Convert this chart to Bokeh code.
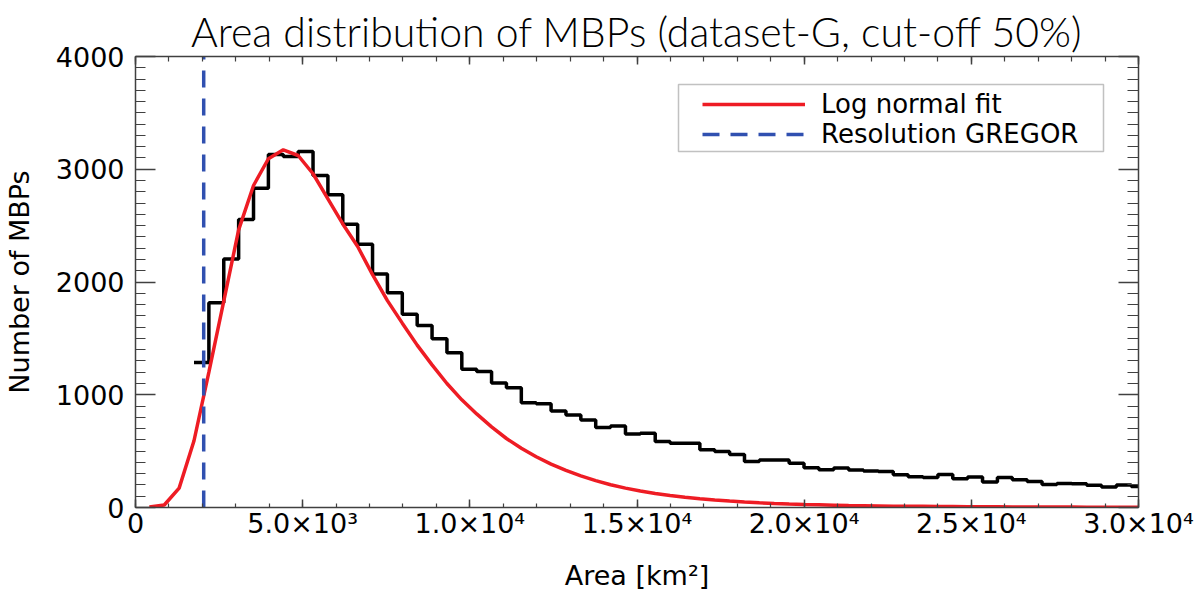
import numpy as np
from bokeh.plotting import figure
from bokeh.models import (Range1d, LinearAxis, Legend, LegendItem, BoxAnnotation,
                          SingleIntervalTicker, CustomJSTickFormatter)
from bokeh.embed import file_html
from bokeh.resources import INLINE

# histogram of MBP areas (counts per bin), bins start at first_edge
counts = [1287, 1815, 2205, 2554, 2832, 3131, 3113, 3158, 2945, 2773,
          2513, 2335, 2072, 1905, 1715, 1615, 1497, 1372, 1227, 1206,
          1104, 1063, 929, 920, 856, 820, 776, 710, 722, 652,
          658, 586, 570, 570, 512, 496, 471, 408, 422, 421,
          393, 352, 335, 350, 332, 323, 320, 290, 272, 266,
          293, 254, 270, 227, 266, 246, 231, 204, 212, 210,
          197, 181, 200, 187]
first_edge = 1750
bin_width = 445

# log normal fit, sampled on the same grid starting at fit_start
fit_vals = [5, 22, 172, 592, 1200, 1830, 2462, 2856, 3093, 3172,
            3122, 2960, 2738, 2515, 2315, 2065, 1835, 1635, 1440, 1265,
            1100, 955, 830, 715, 612, 525, 450, 385, 330, 280,
            238, 202, 172, 146, 124, 106, 90, 77, 66, 57,
            49, 42, 36, 31, 27, 24, 21, 18, 16, 14,
            12, 11, 10, 9, 8, 7, 6, 6, 5, 5,
            4, 4, 4, 3, 3, 3, 3, 2]
fit_start = 415

gregor_res = 2040

x_labels = {0: "0", 5000: "5.0×10³", 10000: "1.0×10⁴", 15000: "1.5×10⁴",
            20000: "2.0×10⁴", 25000: "2.5×10⁴", 30000: "3.0×10⁴"}

edges = first_edge + bin_width * np.arange(len(counts) + 1)
step_y = counts + [counts[-1]]
fit_x = fit_start + bin_width * np.arange(len(fit_vals))

FONT = "DejaVu Sans"
AX = "#404040"

p = figure(width=1200, height=594, output_backend="svg", toolbar_location=None,
           x_range=Range1d(0, 30000), y_range=Range1d(0, 4000),
           min_border_left=132, min_border_right=62, min_border_top=56,
           min_border_bottom=87)
p.title.text = "Area distribution of MBPs (dataset-G, cut-off 50%)"
p.title.text_font = "'Lato Light', Lato"
p.title.text_font_size = "41px"
p.title.text_font_style = "normal"
p.title.text_color = "black"
p.title.text_line_height = 0.75
p.title.align = "center"
p.title.standoff = 2

p.xgrid.visible = False
p.ygrid.visible = False
p.outline_line_color = None

hist_r = p.step(edges, step_y, mode="after", line_color="black", line_width=3.5)
fit_r = p.line(fit_x, fit_vals, line_color="#ee1c24", line_width=3.5)
res_r = p.line([gregor_res, gregor_res], [p.y_range.start, p.y_range.end],
               line_color="#3050b0", line_width=3.5, line_dash="17 11")

blank = CustomJSTickFormatter(code="return ''")

def style(ax, major, minor, labels=True):
    ax.axis_line_color = AX
    ax.axis_line_width = 1.5
    ax.major_tick_line_color = AX
    ax.minor_tick_line_color = AX
    ax.major_tick_line_width = 1.5
    ax.minor_tick_line_width = 1.2
    ax.major_tick_in = major
    ax.major_tick_out = 0
    ax.minor_tick_in = minor
    ax.minor_tick_out = 0
    if labels:
        ax.major_label_text_font = FONT
        ax.major_label_text_font_size = "27px"
        ax.major_label_text_color = "black"
        ax.axis_label_text_font = FONT
        ax.axis_label_text_font_size = "27px"
        ax.axis_label_text_font_style = "normal"
        ax.axis_label_text_color = "black"
    else:
        ax.formatter = blank
        ax.major_label_standoff = 0
        ax.axis_label_standoff = 0
        ax.major_label_text_font_size = "1px"

xt = SingleIntervalTicker(interval=5000, num_minor_ticks=5)
yt = SingleIntervalTicker(interval=1000, num_minor_ticks=10)

xa = p.xaxis[0]
xa.ticker = xt
xa.major_label_overrides = x_labels
xa.axis_label = "Area [km²]"
style(xa, 8, 4)
xa.major_label_standoff = 0
xa.axis_label_standoff = 18

ya = p.yaxis[0]
ya.ticker = yt
ya.axis_label = "Number of MBPs"
style(ya, 20, 10)
ya.major_label_standoff = 11
ya.axis_label_standoff = 18

top = LinearAxis(ticker=xt)
style(top, 8, 5, labels=False)
p.add_layout(top, "above")
right = LinearAxis(ticker=yt)
style(right, 20, 11, labels=False)
p.add_layout(right, "right")

# legend frame
p.add_layout(BoxAnnotation(left=678, right=1103, top=84, bottom=151,
                           left_units="canvas", right_units="canvas",
                           top_units="canvas", bottom_units="canvas",
                           fill_color="white", fill_alpha=1.0,
                           line_color="#333333", line_width=1.5))

legend = Legend(items=[LegendItem(label="Log normal fit", renderers=[fit_r]),
                       LegendItem(label="Resolution GREGOR", renderers=[res_r])],
                location=(567, 358))
legend.label_text_font = FONT
legend.label_text_font_size = "26px"
legend.label_text_color = "black"
legend.glyph_width = 103
legend.glyph_height = 28
legend.label_height = 28
legend.label_standoff = 16
legend.spacing = 0
legend.padding = 4
legend.margin = 0
legend.border_line_color = None
legend.background_fill_alpha = 0
p.add_layout(legend)

open("out.html", "w").write(file_html(p, INLINE))
